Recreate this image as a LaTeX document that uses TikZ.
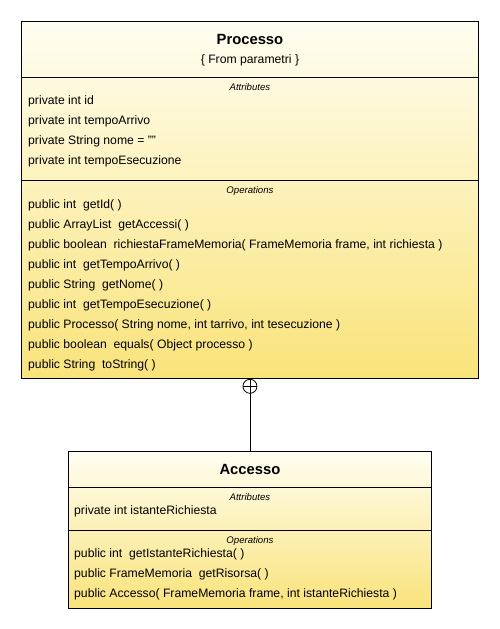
\documentclass[tikz,border=0pt]{standalone}
\usepackage{fontspec}
\setmainfont{Liberation Sans}
\usepackage{tikz}
\usetikzlibrary{positioning,calc,matrix}
\definecolor{umlpale}{RGB}{255,254,242}
\definecolor{umlgold}{RGB}{249,227,122}
\tikzset{
  classbox/.style={draw=black, line width=0.9pt, top color=umlpale, bottom color=umlgold,
                   inner sep=0pt, anchor=north west},
  divider/.style={line width=0.9pt, black},
  cname/.style={font=\fontsize{14.8}{16}\selectfont\bfseries, anchor=base, inner sep=0pt},
  cpkg/.style={font=\fontsize{12.2}{14}\selectfont, anchor=base, inner sep=0pt},
  seclbl/.style={font=\fontsize{9.6}{10}\selectfont\itshape, anchor=base, inner sep=0pt},
  members/.style={matrix of nodes, anchor=north west, inner sep=0pt, row sep=0pt,
                  nodes={font=\fontsize{12.2}{14}\selectfont, inner sep=0pt, anchor=base west,
                         text height=14pt, text depth=6pt}},
  nestmark/.style={circle, draw=black, line width=0.8pt, minimum size=14pt, inner sep=0pt},
  nestline/.style={line width=0.8pt, black}
}

\begin{document}
\begin{tikzpicture}[x=1pt, y=-1pt]
\useasboundingbox (0,0) rectangle (499,629);
\node (proc) [classbox, minimum width=457pt, minimum height=357pt] at (21,21) {};
\draw[divider] ($(proc.north west)+(0,56)$) -- ($(proc.north east)+(0,56)$);
\draw[divider] ($(proc.north west)+(0,159)$) -- ($(proc.north east)+(0,159)$);
\node (pname) [cname] at ($(proc.north)+(0,23)$) {Processo};
\node (ppkg) [cpkg] at ($(proc.north)+(0,42)$) {\{ From parametri \}};
\node (pattrlbl) [seclbl] at ($(proc.north)+(0,69)$) {Attributes};
\node (poplbl) [seclbl] at ($(proc.north)+(0,172)$) {Operations};
\matrix (pattr) [members, at={($(proc.north west)+(7,69)$)}] {
  private int id \\
  private int tempoArrivo \\
  private String nome = \char34\char34 \\
  private int tempoEsecuzione \\
};
\matrix (pops) [members, at={($(proc.north west)+(7,173)$)}] {
  public int\ \ getId(\ ) \\
  public ArrayList\ \ getAccessi(\ ) \\
  public boolean\ \ richiestaFrameMemoria( FrameMemoria frame, int richiesta ) \\
  public int\ \ getTempoArrivo(\ ) \\
  public String\ \ getNome(\ ) \\
  public int\ \ getTempoEsecuzione(\ ) \\
  public Processo( String nome, int tarrivo, int tesecuzione ) \\
  public boolean\ \ equals( Object processo ) \\
  public String\ \ toString(\ ) \\
};
\node (nest) [nestmark, below=0pt of proc.south] {};
\draw[nestline] (nest.north) -- (nest.south) (nest.west) -- (nest.east);
\node (acc) [classbox, minimum width=363pt, minimum height=157pt] at (68,451) {};
\draw[divider] ($(acc.north west)+(0,36)$) -- ($(acc.north east)+(0,36)$);
\draw[divider] ($(acc.north west)+(0,79)$) -- ($(acc.north east)+(0,79)$);
\node (aname) [cname] at ($(acc.north)+(0,23)$) {Accesso};
\node (aattrlbl) [seclbl] at ($(acc.north)+(0,49)$) {Attributes};
\node (aoplbl) [seclbl] at ($(acc.north)+(0,92)$) {Operations};
\matrix (aattr) [members, at={($(acc.north west)+(6,49)$)}] {
  private int istanteRichiesta \\
};
\matrix (aops) [members, at={($(acc.north west)+(6,92)$)}] {
  public int\ \ getIstanteRichiesta(\ ) \\
  public FrameMemoria\ \ getRisorsa(\ ) \\
  public Accesso( FrameMemoria frame, int istanteRichiesta ) \\
};
\draw[nestline] (nest.south) -- (acc.north);
\end{tikzpicture}
\end{document}
